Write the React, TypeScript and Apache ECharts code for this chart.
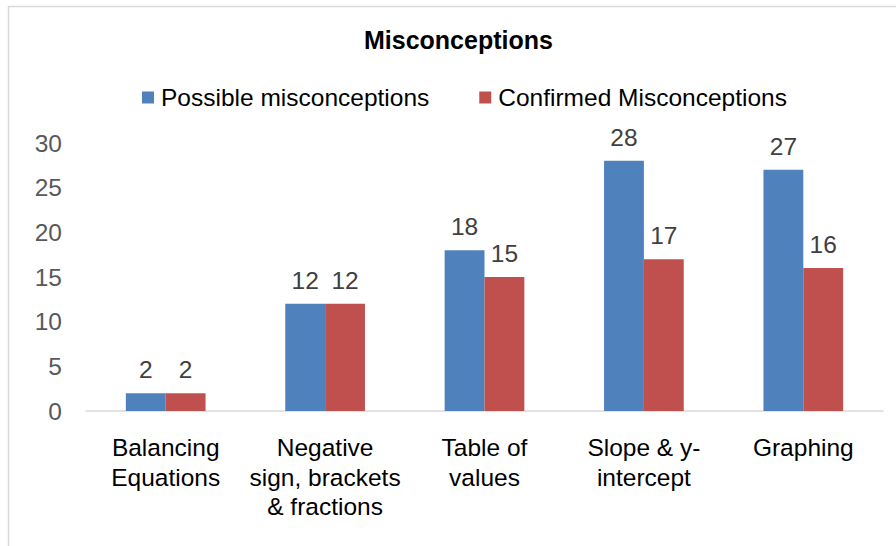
import React, { useEffect, useRef } from "react";
import * as echarts from "echarts";

const categories = [
  "Balancing\nEquations",
  "Negative\nsign, brackets\n& fractions",
  "Table of\nvalues",
  "Slope & y-\nintercept",
  "Graphing",
];
const possible = [2, 12, 18, 28, 27];
const confirmed = [2, 12, 15, 17, 16];
const seriesNames = ["Possible misconceptions", "Confirmed Misconceptions"];

const FONT = "'Liberation Sans', Arial, sans-serif";

export default function App() {
  const ref = useRef<HTMLDivElement>(null);
  useEffect(() => {
    if (!ref.current) return;
    const chart = echarts.init(ref.current, null, { renderer: "svg" });
    const labelStyle = {
      show: true,
      position: "top" as const,
      distance: 11,
      color: "#404040",
      fontSize: 24.5,
      fontFamily: FONT,
    };
    chart.setOption({
      animation: false,
      backgroundColor: "#ffffff",
      graphic: [
        {
          type: "rect",
          shape: { x: 8.5, y: 6.5, width: 1000, height: 1000 },
          style: { fill: "none", stroke: "#d9d9d9", lineWidth: 1.5 },
          silent: true,
        },
      ],
      title: {
        text: "Misconceptions",
        left: 364,
        top: 27,
        padding: 0,
        textStyle: {
          fontFamily: FONT,
          fontSize: 25,
          fontWeight: "bold",
          color: "#000000",
        },
      },
      legend: {
        top: 80,
        left: 137,
        itemWidth: 12,
        itemHeight: 12,
        itemGap: 50,
        icon: "rect",
        textStyle: {
          fontFamily: FONT,
          fontSize: 24.5,
          color: "#000000",
          padding: [0, 0, 0, 2],
        },
        data: seriesNames,
      },
      grid: { left: 86, right: 13, top: 143, bottom: 135, containLabel: false },
      xAxis: {
        type: "category",
        data: categories,
        axisLine: { show: true, lineStyle: { color: "#d9d9d9", width: 1.5 } },
        axisTick: { show: false },
        axisLabel: {
          interval: 0,
          margin: 22,
          fontFamily: FONT,
          fontSize: 24.5,
          color: "#000000",
          lineHeight: 29.5,
          align: "center",
        },
      },
      yAxis: {
        type: "value",
        min: 0,
        max: 30,
        interval: 5,
        splitLine: { show: false },
        axisLine: { show: false },
        axisTick: { show: false },
        axisLabel: {
          margin: 24,
          fontFamily: FONT,
          fontSize: 24.5,
          color: "#595959",
        },
      },
      series: [
        {
          name: seriesNames[0],
          type: "bar",
          data: possible,
          barGap: "0%",
          barCategoryGap: "50%",
          itemStyle: { color: "#4F81BD" },
          label: labelStyle,
        },
        {
          name: seriesNames[1],
          type: "bar",
          data: confirmed,
          itemStyle: { color: "#C0504D" },
          label: labelStyle,
        },
      ],
    });
    return () => chart.dispose();
  }, []);
  return (
    <div
      ref={ref}
      style={{ position: "absolute", left: 0, top: 0, width: 896, height: 546 }}
    />
  );
}
